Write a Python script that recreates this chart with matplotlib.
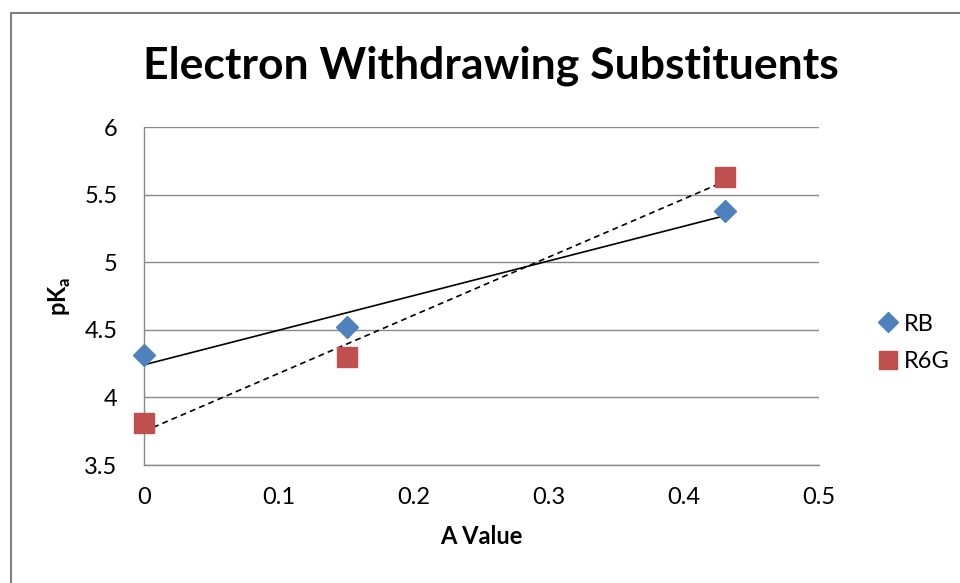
import numpy as np
import matplotlib.pyplot as plt
from matplotlib.lines import Line2D

# data
a_value = [0, 0.15, 0.43]
rb_pka = [4.31, 4.52, 5.38]
r6g_pka = [3.81, 4.30, 5.63]

x_ticks = [0, 0.1, 0.2, 0.3, 0.4, 0.5]
y_ticks = [3.5, 4, 4.5, 5, 5.5, 6]

W, H = 960, 583
fig = plt.figure(figsize=(9.6, 5.83), dpi=100)
plt.rcParams['font.family'] = ['Lato', 'DejaVu Sans']

# plot area in pixels: x 144..819, y 127..465
ax = fig.add_axes([144 / W, 1 - 465 / H, (819 - 144) / W, (465 - 127) / H])

grid_col = '#898989'
for y in y_ticks:
    ax.axhline(y, color=grid_col, lw=1.0, zorder=1)

# linear trendlines
xs = np.array([0, 0.43])
k, b = np.polyfit(a_value, rb_pka, 1)
ax.plot(xs, k * xs + b, color='black', lw=1.2, zorder=2)
k, b = np.polyfit(a_value, r6g_pka, 1)
ax.plot(xs, k * xs + b, color='black', lw=1.2, ls=(0, (3.5, 2.5)), zorder=2)

ax.plot(a_value, rb_pka, 'D', color='#4F81BD', markersize=11, ls='none', zorder=3, clip_on=False)
ax.plot(a_value, r6g_pka, 's', color='#C0504D', markersize=14, ls='none', zorder=3, clip_on=False)

ax.set_xlim(0, 0.5)
ax.set_ylim(3.5, 6)
ax.set_xticks(x_ticks)
ax.set_xticklabels(['0', '0.1', '0.2', '0.3', '0.4', '0.5'])
ax.set_yticks(y_ticks)
ax.set_yticklabels(['3.5', '4', '4.5', '5', '5.5', '6'])
ax.tick_params(axis='x', length=0, labelsize=17, pad=16)
ax.tick_params(axis='y', length=0, labelsize=17, pad=19)
for side in ['top', 'right']:
    ax.spines[side].set_visible(False)
for side in ['left', 'bottom']:
    ax.spines[side].set_color(grid_col)
    ax.spines[side].set_linewidth(1.0)

ax.set_xlabel('A Value', fontsize=17, fontweight='bold', labelpad=12)
ax.set_ylabel('pK$_\\mathregular{a}$', fontsize=17, fontweight='bold', labelpad=8)

fig.text(491 / W, 1 - 66 / H, 'Electron Withdrawing Substituents', fontsize=32,
         fontweight='bold', ha='center', va='center')

handles = [Line2D([], [], marker='D', color='#4F81BD', ls='none', markersize=10),
           Line2D([], [], marker='s', color='#C0504D', ls='none', markersize=13)]
fig.legend(handles, ['RB', 'R6G'], loc='center left', bbox_to_anchor=(850 / W, 1 - 343 / H),
           frameon=False, fontsize=17, handletextpad=0.0, labelspacing=0.7, handlelength=1.4)

# chart border (top and left edges)
fig.add_artist(Line2D([11 / W, 11 / W, 1], [0, 1 - 13 / H, 1 - 13 / H], color='#808080', lw=1.5))

fig.savefig('out.png', dpi=100)
